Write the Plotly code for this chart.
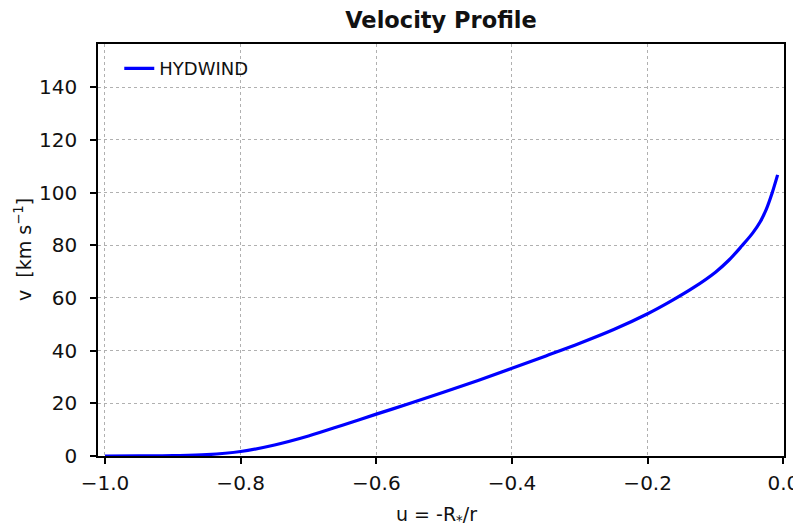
import plotly.graph_objects as go

u_values = [-1.0, -0.95, -0.9, -0.85, -0.8, -0.75, -0.7, -0.65, -0.6, -0.55, -0.5, -0.45,
            -0.4, -0.35, -0.3, -0.25, -0.2, -0.167, -0.132, -0.1, -0.08, -0.061, -0.045,
            -0.034, -0.025, -0.0168, -0.0084]
v_values = [0.0, 0.05, 0.15, 0.5, 1.7, 4.2, 7.6, 11.7, 15.9, 20.0, 24.3, 28.7,
            33.3, 38.0, 42.8, 48.0, 54.0, 58.6, 64.0, 69.8, 74.4, 79.8, 84.7,
            88.9, 93.7, 99.6, 106.7]

x_ticks = [-1.0, -0.8, -0.6, -0.4, -0.2, 0.0]
x_tick_labels = ["\u22121.0", "\u22120.8", "\u22120.6", "\u22120.4", "\u22120.2", "0.0"]
y_ticks = [0, 20, 40, 60, 80, 100, 120, 140]
y_tick_labels = ["0", "20", "40", "60", "80", "100", "120", "140"]

fig = go.Figure()
fig.add_trace(go.Scatter(x=u_values, y=v_values, mode="lines", name="HYDWIND",
                         line=dict(color="#0000ff", width=3.2, shape="spline", smoothing=1.0)))

# The page body has an 8px margin, so the figure is shrunk by 8px and offsets compensated.
W, H = 793, 522
font_family = "DejaVu Sans"
fig.update_layout(
    width=W, height=H,
    margin=dict(l=90, r=17, t=36, b=74, autoexpand=False),
    paper_bgcolor="white", plot_bgcolor="white",
    font=dict(family=font_family, color="#111111", size=20),
    title=dict(text="<b>Velocity Profile</b>", x=(441 - 8) / W, xref="container", xanchor="center",
               y=1 - (20 - 8) / H, yref="container", yanchor="middle",
               font=dict(size=22.5, family=font_family, color="#111111")),
    showlegend=True,
    legend=dict(x=0.031, y=0.985, xanchor="left", yanchor="top", bgcolor="rgba(255,255,255,0)",
                font=dict(size=18, family=font_family, color="#111111")),
    annotations=[
        dict(text="u = -R<sub>*</sub>/r", x=(436 - 98) / 686, xref="paper", y=(456 - 515) / 412,
             yref="paper", xanchor="center", yanchor="middle", showarrow=False,
             font=dict(size=19, family=font_family, color="#111111")),
        dict(text="v  [km s<sup>\u22121</sup>]", x=(23 - 98) / 686, xref="paper", y=0.5,
             yref="paper", xanchor="center", yanchor="middle", showarrow=False, textangle=-90,
             font=dict(size=19, family=font_family, color="#111111")),
    ],
)
fig.update_xaxes(
    range=[-1.0103, 0.001], tickvals=x_ticks, ticktext=x_tick_labels,
    showline=True, mirror=True, linecolor="black", linewidth=1.6,
    ticks="outside", ticklen=6, tickwidth=1.5, tickcolor="black",
    showgrid=True, gridcolor="#b0b0b0", griddash="dot", gridwidth=1.2,
    zeroline=False, automargin=False, ticklabelstandoff=2,
)
fig.update_yaxes(
    range=[0, 156.4], tickvals=y_ticks, ticktext=y_tick_labels,
    showline=True, mirror=True, linecolor="black", linewidth=1.6,
    ticks="outside", ticklen=6, tickwidth=1.5, tickcolor="black",
    showgrid=True, gridcolor="#b0b0b0", griddash="dot", gridwidth=1.2,
    zeroline=False, automargin=False, ticklabelstandoff=9,
)
fig.write_html("out.html")
